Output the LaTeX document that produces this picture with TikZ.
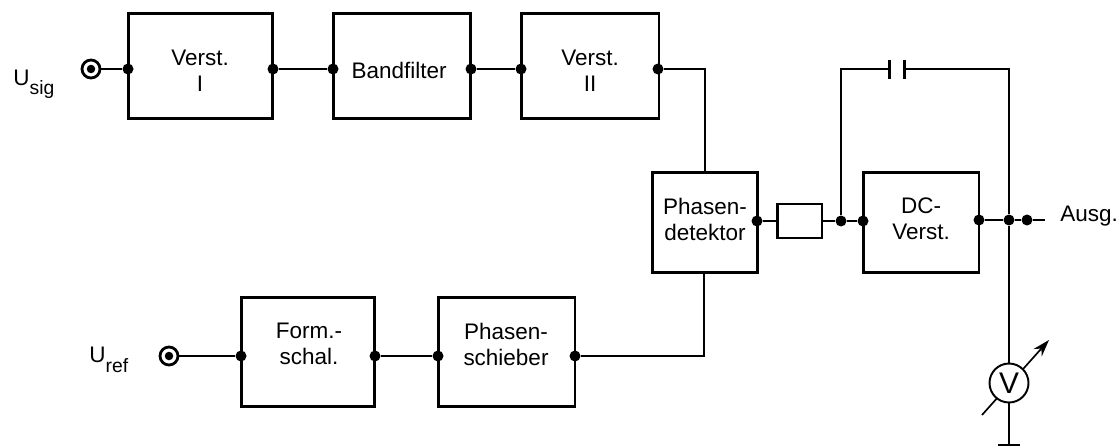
\documentclass[tikz,border=0pt]{standalone}
\usepackage{fontspec}
\setmainfont{Liberation Sans}
\usetikzlibrary{arrows.meta}
\newcommand{\tiefsub}[1]{\raisebox{-.42em}{\fontsize{11}{11}\selectfont #1}}
\tikzset{
  blk/.style={draw, line width=1.7pt, inner sep=0pt, outer sep=0pt},
  lab/.style={align=center, inner sep=0pt, font=\fontsize{12.8}{14.8}\selectfont},
  dot/.style={circle, fill=black, inner sep=0pt, minimum size=.22cm},
  term/.style={circle, draw, line width=1.6pt, fill=white, minimum size=.36cm, inner sep=0pt},
  termdot/.style={circle, fill=black, minimum size=.17cm, inner sep=0pt},
  wire/.style={line width=1.3pt},
  thinwire/.style={line width=.95pt}
}
\begin{document}
\begin{tikzpicture}[x=.02cm, y=-.02cm]
    \useasboundingbox (0,0) rectangle (1119,446);
    % upper chain
    \node[blk, minimum width=2.9cm, minimum height=2.12cm] (verstI) at (200.5,66) {};
    \node[blk, minimum width=2.76cm, minimum height=2.12cm] (band) at (402,66) {};
    \node[blk, minimum width=2.76cm, minimum height=2.12cm] (verstII) at (590,66) {};
    \node[lab] (verstItxt) at (200,71) {Verst.\\I};
    \node[lab] (bandtxt) at (399,70) {Bandfilter};
    \node[lab] (verstIItxt) at (590,71) {Verst.\\II};
    % lower chain
    \node[blk, minimum width=2.68cm, minimum height=2.2cm] (form) at (308,352) {};
    \node[blk, minimum width=2.74cm, minimum height=2.2cm] (schieber) at (506.5,352) {};
    \node[lab] (formtxt) at (309,344) {Form.-\\schal.};
    \node[lab] (schiebertxt) at (506,344) {Phasen-\\schieber};
    % right side
    \node[blk, minimum width=2.1cm, minimum height=2cm] (det) at (705,222.5) {};
    \node[blk, minimum width=.9cm, minimum height=.68cm] (tp) at (799.5,221) {};
    \node[blk, minimum width=2.32cm, minimum height=2cm] (dc) at (921,222.5) {};
    \node[lab] (dettxt) at (705,219) {Phasen-\\detektor};
    \node[lab] (dctxt) at (921,219) {DC-\\Verst.};
    % terminals
    \node[term] (sig) at (91,69) {};
    \node[term] (ref) at (169,356) {};
    \node[termdot] (sigin) at (91,69) {};
    \node[termdot] (refin) at (169,356) {};
    \node[lab, anchor=west] (sigtxt) at (13,84) {U\tiefsub{sig}};
    \node[lab, anchor=west] (reftxt) at (89,360) {U\tiefsub{ref}};
    % dots on the blocks
    \foreach \n/\x/\y in {a/128/69, b/273/69, c/333/69, d/471/69, e/521/69, f/658/69,
                          g/241/356, h/375/356, i/438/356, j/575/356,
                          k/757/221, l/841/221, m/863/221, n/979/220, o/1009/220, p/1027/220}{
      \node[dot] (\n) at (\x,\y) {};
    }
    \coordinate (ausg) at (1045,220);
    \coordinate (upII) at (704,356);
    \coordinate (capL) at (889,69);
    \coordinate (capR) at (904,69);
    \coordinate (capLeft) at (841,69);
    \coordinate (capRight) at (1009,69);
    \coordinate (gnd) at (1009,445);
    \coordinate (meterA) at (982,415);
    \coordinate (meterB) at (1049,340);
    % connections
    \draw[thinwire] (sig) -- (a);
    \draw[wire] (b) -- (c);
    \draw[wire] (d) -- (e);
    \draw[thinwire] (f) -| (det.north);
    \draw[thinwire] (ref) -- (g);
    \draw[wire] (h) -- (i);
    \draw[thinwire] (j) -- (upII) -- (det.south -| upII);
    \draw[wire] (k) -- (tp.west);
    \draw[wire] (tp.east) -- (l) -- (m);
    \draw[wire] (n) -- (o) -- (p) -- (ausg);
    \draw[thinwire] (l) -- (capLeft) -- (capL);
    \draw[thinwire] (capR) -- (capRight) -- (o);
    \draw[line width=1.7pt] (capL) ++(0,-9) -- ++(0,19);
    \draw[line width=1.7pt] (capR) ++(0,-9) -- ++(0,19);
    \draw[thinwire, -{Stealth[length=3.4mm, width=2.2mm]}] (meterA) -- (meterB);
    \node[circle, draw, line width=1.1pt, fill=white, minimum size=.78cm, inner sep=0pt,
          font=\fontsize{17}{17}\selectfont] (meter) at (1009,383) {V};
    \draw[thinwire] (o) -- (meter);
    \draw[thinwire] (meter) -- (gnd);
    \draw[thinwire] (gnd) ++(-11,0) -- ++(22,0);
    \node[lab, anchor=west] (ausgtxt) at (1060,216) {Ausg.};
\end{tikzpicture}
\end{document}
